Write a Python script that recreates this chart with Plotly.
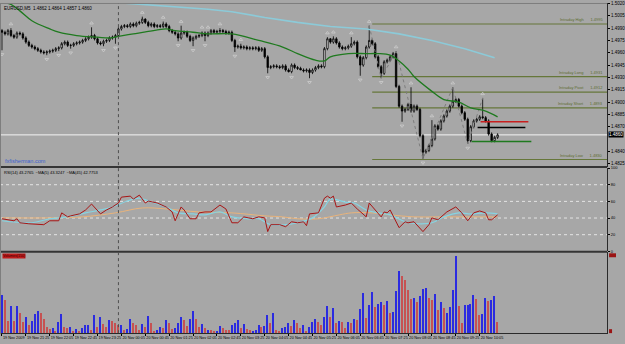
import plotly.graph_objects as go

# ---------------- data (prices stored as pips above 1.4800) ----------------
BASE = 1.4800
PIP = 0.0001

open_pips = [
    187, 185, 183, 187, 181, 179, 184, 183, 178, 173,
    169, 167, 165, 163, 161, 160, 161, 162, 163, 165,
    166, 171, 173, 169, 169, 171, 172, 173, 175, 177,
    179, 181, 177, 172, 171, 174, 175, 178, 179, 181,
    189, 192, 193, 192, 195, 193, 196, 197, 201, 197,
    193, 195, 192, 193, 192, 195, 192, 187, 185, 183,
    178, 184, 185, 180, 175, 178, 180, 181, 184, 181,
    184, 187, 185, 186, 187, 186, 184, 185, 175, 167,
    168, 166, 167, 165, 166, 165, 166, 163, 165, 155,
    142, 143, 144, 143, 142, 144, 139, 137, 145, 142,
    141, 139, 138, 139, 136, 139, 142, 144, 143, 165,
    177, 173, 177, 172, 167, 165, 166, 168, 171, 173,
    155, 145, 154, 167, 175, 171, 155, 143, 135, 149,
    151, 155, 159, 119, 95, 89, 91, 97, 89, 95,
    91, 59, 39, 41, 47, 55, 71, 67, 77, 83,
    89, 95, 101, 103, 95, 87, 79, 53, 70, 77,
    79, 82, 81, 77, 61, 53, 57]
high_pips = [
    189, 187, 189, 190, 183, 186, 186, 185, 180, 175,
    171, 169, 167, 165, 163, 163, 164, 165, 167, 168,
    173, 175, 175, 171, 173, 174, 175, 177, 179, 181,
    191, 183, 179, 174, 176, 177, 180, 181, 183, 191,
    194, 195, 195, 197, 197, 198, 199, 204, 202, 199,
    197, 197, 195, 195, 198, 197, 194, 189, 187, 185,
    193, 187, 187, 182, 180, 182, 183, 186, 186, 186,
    189, 189, 188, 190, 189, 188, 187, 187, 177, 170,
    171, 169, 169, 168, 168, 168, 168, 167, 167, 157,
    145, 146, 146, 145, 146, 146, 141, 147, 147, 144,
    143, 141, 141, 141, 141, 144, 146, 146, 167, 179,
    178, 180, 179, 174, 169, 168, 170, 179, 175, 175,
    157, 156, 169, 193, 177, 173, 157, 145, 151, 153,
    157, 161, 162, 121, 97, 93, 99, 118, 97, 97,
    93, 61, 43, 49, 78, 73, 73, 79, 85, 91,
    97, 118, 105, 105, 97, 89, 81, 72, 79, 81,
    84, 105, 83, 79, 63, 59, 62]
low_pips = [
    163, 181, 181, 179, 177, 177, 181, 176, 171, 167,
    165, 163, 161, 159, 158, 157, 159, 160, 161, 162,
    164, 169, 167, 165, 167, 169, 170, 171, 173, 175,
    177, 175, 170, 169, 168, 172, 173, 176, 171, 179,
    187, 190, 190, 190, 191, 191, 194, 195, 195, 191,
    191, 190, 190, 190, 190, 190, 185, 183, 181, 174,
    176, 182, 178, 173, 168, 176, 178, 179, 174, 179,
    182, 183, 183, 184, 184, 182, 182, 173, 161, 165,
    164, 164, 163, 163, 163, 163, 161, 161, 153, 135,
    140, 141, 141, 140, 140, 137, 136, 135, 140, 139,
    139, 136, 136, 129, 134, 137, 140, 141, 141, 163,
    171, 171, 170, 165, 163, 163, 164, 166, 169, 153,
    132, 143, 152, 165, 169, 153, 141, 129, 133, 147,
    149, 153, 117, 93, 76, 87, 89, 87, 87, 89,
    57, 31, 37, 39, 45, 53, 65, 65, 75, 81,
    87, 93, 99, 93, 85, 77, 49, 51, 68, 75,
    77, 79, 75, 59, 51, 51, 55]
close_pips = [
    185, 183, 187, 181, 179, 184, 183, 178, 173, 169,
    167, 165, 163, 161, 160, 161, 162, 163, 165, 166,
    171, 173, 169, 169, 171, 172, 173, 175, 177, 179,
    181, 177, 172, 171, 174, 175, 178, 179, 181, 189,
    192, 193, 192, 195, 193, 196, 197, 201, 197, 193,
    195, 192, 193, 192, 195, 192, 187, 185, 183, 178,
    184, 185, 180, 175, 178, 180, 181, 184, 181, 184,
    187, 185, 186, 187, 186, 184, 185, 175, 167, 168,
    166, 167, 165, 166, 165, 166, 163, 165, 155, 142,
    143, 144, 143, 142, 144, 139, 137, 145, 142, 141,
    139, 138, 139, 136, 139, 142, 144, 143, 165, 177,
    173, 177, 172, 167, 165, 166, 168, 171, 173, 155,
    145, 154, 167, 175, 171, 155, 143, 135, 149, 151,
    155, 159, 119, 95, 89, 91, 97, 89, 95, 91,
    59, 39, 41, 47, 55, 71, 67, 77, 83, 89,
    95, 101, 103, 95, 87, 79, 53, 70, 77, 79,
    82, 81, 77, 61, 53, 57, 60]

fractal_up_bars = [3, 30, 47, 54, 60, 67, 69, 73, 80, 109, 111, 117, 123, 132, 137, 144, 151, 161]
fractal_dn_bars = [0, 15, 19, 23, 34, 38, 59, 64, 68, 78, 89, 97, 103, 120, 127, 134, 141, 156]
zigzag_bars = [123, 127, 132, 141, 151, 156, 161]
zigzag_kind = ["h", "l", "h", "l", "h", "l", "h"]

# moving averages on price (bar index, pips)
ma_fast_bars = [0, 3, 6, 10, 16, 19, 25, 32, 36, 39, 44, 49, 55, 58, 64, 69, 77, 86, 94, 99,
                105, 108, 110, 116, 122, 126, 130, 133, 136, 138, 144, 148, 153, 157, 162, 166]
ma_fast_pips = [221, 219, 211, 199, 189, 185, 181, 179, 178, 180, 183, 186, 189, 187, 185, 183, 183, 175, 167, 159,
                151, 150, 155, 159, 159, 159, 157, 150, 140, 131, 113, 103, 100, 93, 89, 82]
ma_slow_bars = [36, 39, 69, 77, 88, 99, 110, 122, 133, 144, 155, 165]
ma_slow_pips = [224, 221, 213, 210, 203, 197, 192, 189, 183, 175, 165, 154]

# RSI(14) and its averages
rsi_bars = [0, 4, 5, 6, 9, 12, 14, 16, 19, 20, 22, 23, 26, 28, 30, 33, 35, 37, 39, 40,
            43, 44, 46, 48, 49, 52, 55, 57, 58, 60, 61, 63, 65, 66, 68, 70, 73, 75, 77, 79,
            81, 84, 86, 88, 89, 90, 93, 95, 97, 99, 101, 102, 103, 106, 108, 109, 110, 111, 112, 115,
            117, 119, 122, 123, 127, 128, 129, 130, 133, 135, 136, 138, 141, 143, 144, 146, 148, 149, 152, 154,
            156, 158, 160, 162, 163, 164, 166]
rsi_vals = [39.1, 36.7, 39.1, 34.3, 33.1, 32.0, 32.0, 36.7, 36.7, 46.2, 41.4, 42.6, 45.0, 49.7, 56.8, 45.0, 49.7, 53.3, 58.0, 65.1,
            66.3, 62.7, 67.5, 58.0, 60.4, 58.0, 53.3, 47.3, 36.7, 53.3, 49.7, 39.1, 39.1, 46.2, 47.3, 47.3, 55.6, 50.9, 34.3, 34.3,
            41.4, 39.1, 41.4, 40.2, 23.7, 32.0, 32.0, 29.6, 35.5, 34.3, 35.5, 30.8, 45.0, 46.2, 63.9, 66.3, 63.9, 66.3, 53.3, 55.6,
            58.0, 50.9, 41.4, 58.0, 41.4, 47.3, 46.2, 49.7, 28.4, 35.5, 34.3, 35.5, 23.7, 32.0, 40.2, 37.9, 43.8, 47.3, 53.3, 46.2,
            36.7, 46.2, 48.5, 46.2, 37.9, 37.9, 43.8]
rsi_ma5_bars = [0, 10, 16, 22, 28, 33, 37, 42, 46, 50, 55, 59, 64, 68, 73, 77, 82, 86, 90, 95,
                99, 104, 108, 110, 115, 118, 122, 126, 130, 135, 139, 144, 148, 153, 157, 162, 166]
rsi_ma5_vals = [36.7, 34.3, 39.1, 41.4, 46.2, 49.7, 53.3, 60.4, 63.9, 59.2, 53.3, 46.2, 45.0, 43.8, 47.3, 41.4, 39.1, 39.1, 32.0, 32.0,
                34.3, 40.2, 53.3, 62.7, 59.2, 58.0, 49.7, 46.2, 43.8, 35.5, 33.1, 34.3, 41.4, 46.2, 45.0, 46.2, 45.0]
rsi_ma45_bars = [0, 16, 27, 38, 47, 55, 66, 77, 88, 94, 99, 106, 113, 117, 124, 130, 138, 146, 155, 166]
rsi_ma45_vals = [40.2, 40.2, 41.4, 46.2, 52.1, 50.9, 47.3, 46.2, 42.6, 41.4, 39.1, 39.1, 43.8, 46.2, 46.2, 43.8, 41.4, 41.4, 41.4, 41.4]
rsi_levels = [20, 40, 60, 80]
rsi_ticks = [0, 20, 40, 60, 80, 100]

# volume per bar and its colour class
volume = [
    38, 33, 12, 27, 12, 27, 20, 11, 16, 8,
    12, 19, 22, 20, 14, 6, 4, 5, 2, 11,
    19, 6, 5, 6, 2, 4, 2, 5, 8, 8,
    3, 18, 6, 16, 9, 6, 13, 12, 10, 8,
    8, 3, 4, 14, 10, 8, 3, 9, 6, 17,
    10, 2, 3, 6, 5, 13, 10, 4, 5, 10,
    16, 13, 7, 14, 22, 14, 6, 9, 5, 3,
    3, 2, 2, 7, 5, 3, 3, 8, 10, 13,
    5, 9, 4, 3, 2, 3, 8, 6, 7, 18,
    10, 20, 3, 2, 5, 6, 10, 7, 13, 10,
    5, 8, 1, 6, 11, 14, 11, 8, 16, 27,
    16, 25, 10, 12, 11, 5, 11, 10, 14, 13,
    24, 40, 15, 28, 41, 26, 29, 31, 28, 32,
    20, 21, 42, 63, 58, 54, 43, 34, 35, 31,
    37, 44, 45, 35, 33, 39, 23, 31, 25, 20,
    26, 43, 78, 27, 10, 28, 28, 29, 38, 34,
    18, 19, 35, 32, 33, 37, 11]
volume_kind = list(
    "BRRBRBRRBR" "BBBRRRRBRB" "BRRBRBRBBB" "RBRBRRBRRR" "BRBBRRRBRB"
    "RRBBRBRRBB" "BRRBBRRBRB" "RRBBRRRBBB" "RBRRBBBRBB" "RBRRBBBRBR"
    "RBRBBBRRBB" "RBRBRRBRBR" "BBRBBRBBRB" "RBBBRRRRBR" "BBBRRBRBRB"
    "BBBRRBBBBR" "RBBRBBR")

time_tick_bars = [0, 8, 16, 24, 32, 40, 48, 56, 64, 72, 80, 88, 96, 104, 112, 120, 128, 136, 144, 152, 160]
time_tick_labels = ["19 Nov 2009", "19 Nov 21:25", "19 Nov 22:05", "19 Nov 22:45", "19 Nov 23:25",
                    "20 Nov 00:05", "20 Nov 00:45", "20 Nov 01:25", "20 Nov 02:05", "20 Nov 02:45",
                    "20 Nov 03:25", "20 Nov 04:05", "20 Nov 04:45", "20 Nov 05:25", "20 Nov 06:05",
                    "20 Nov 06:45", "20 Nov 07:25", "20 Nov 08:05", "20 Nov 08:45", "20 Nov 09:25",
                    "20 Nov 10:05"]
day_separator_bar = 39

price_ticks = [1.5020, 1.5005, 1.4990, 1.4975, 1.4960, 1.4945, 1.4930, 1.4915,
               1.4900, 1.4885, 1.4870, 1.4840, 1.4825]
current_price = 1.4860

intraday_names = ["Intraday High", "Intraday Long", "Intraday Pivot", "Intraday Short", "Intraday Low"]
intraday_vals = [1.4995, 1.4931, 1.4912, 1.4893, 1.4830]
intraday_start_bar = 124

order_levels = [1.4876, 1.4869, 1.4852]
order_start = [160.3, 159.3, 157.3]
order_end = [176.3, 175.3, 177.3]
order_colors = ["#c81e1e", "#000000", "#1f7a1f"]

# ---------------- figure ----------------
def to_price(v):
    return round(BASE + v * PIP, 5)

bars = list(range(len(close_pips)))
o = [to_price(v) for v in open_pips]
h = [to_price(v) for v in high_pips]
l = [to_price(v) for v in low_pips]
c = [to_price(v) for v in close_pips]

BG = "#a7a7a7"
XR = 610 / 625
X_MAX = 608 / 3
FONT = "Liberation Sans"

def py(y):  # pixel row -> paper fraction
    return 1 - y / 344

fig = go.Figure()

fig.add_trace(go.Scatter(
    x=zigzag_bars,
    y=[h[b] if k == "h" else l[b] for b, k in zip(zigzag_bars, zigzag_kind)],
    mode="lines", line=dict(color="#7c7c7c", width=1, dash="dot"), hoverinfo="skip"))

fig.add_trace(go.Scatter(x=ma_slow_bars, y=[to_price(v) for v in ma_slow_pips], mode="lines",
                         line=dict(color="#8ccad8", width=1.6), hoverinfo="skip"))
fig.add_trace(go.Scatter(x=ma_fast_bars, y=[to_price(v) for v in ma_fast_pips], mode="lines",
                         line=dict(color="#1f7a1f", width=1.3, shape="spline"), hoverinfo="skip"))

fig.add_trace(go.Candlestick(
    x=bars, open=o, high=h, low=l, close=c,
    increasing=dict(line=dict(color="#000000", width=0.8), fillcolor="#ffffff"),
    decreasing=dict(line=dict(color="#000000", width=0.8), fillcolor="#000000"),
    whiskerwidth=0, hoverinfo="skip"))

fig.add_trace(go.Scatter(
    x=fractal_up_bars, y=[h[b] + 0.0005 for b in fractal_up_bars], mode="markers",
    marker=dict(symbol="triangle-up-open", size=3.2, color="#cdcdcd", line=dict(width=0.8)),
    hoverinfo="skip"))
fig.add_trace(go.Scatter(
    x=fractal_dn_bars, y=[l[b] - 0.0005 for b in fractal_dn_bars], mode="markers",
    marker=dict(symbol="triangle-down-open", size=3.2, color="#cdcdcd", line=dict(width=0.8)),
    hoverinfo="skip"))

# RSI panel
fig.add_trace(go.Scatter(x=rsi_ma45_bars, y=rsi_ma45_vals, mode="lines", yaxis="y2",
                         line=dict(color="#e9b37a", width=1, shape="spline"), hoverinfo="skip"))
fig.add_trace(go.Scatter(x=rsi_ma5_bars, y=rsi_ma5_vals, mode="lines", yaxis="y2",
                         line=dict(color="#86d4e2", width=1.2, shape="spline"), hoverinfo="skip"))
fig.add_trace(go.Scatter(x=rsi_bars, y=rsi_vals, mode="lines", yaxis="y2",
                         line=dict(color="#a81515", width=1), hoverinfo="skip"))

# Volume panel
fig.add_trace(go.Bar(x=bars, y=volume, yaxis="y3", width=0.5,
                     marker=dict(color=["#2b2be0" if k == "B" else "#c65252" for k in volume_kind],
                                 line=dict(width=0)),
                     hoverinfo="skip"))

shapes = []
for yy in (166.5, 252.5):
    shapes.append(dict(type="line", xref="paper", yref="paper", x0=0, x1=XR, y0=py(yy), y1=py(yy),
                       line=dict(color="#353535", width=2)))
shapes.append(dict(type="line", xref="paper", yref="paper", x0=0, x1=XR, y0=py(0.5), y1=py(0.5),
                   line=dict(color="#7e7e7e", width=1)))
shapes.append(dict(type="line", xref="paper", yref="paper", x0=0.0008, x1=0.0008, y0=py(336), y1=1,
                   line=dict(color="#7e7e7e", width=1)))
shapes.append(dict(type="line", xref="x", yref="paper", x0=day_separator_bar, x1=day_separator_bar,
                   y0=py(335), y1=1, line=dict(color="#4f4f4f", width=1, dash="dot")))
for lv in rsi_levels:
    shapes.append(dict(type="line", xref="paper", yref="y2", x0=0, x1=XR, y0=lv, y1=lv,
                       line=dict(color="#e4e4e4", width=1, dash="dot"), layer="below"))
shapes.append(dict(type="line", xref="paper", yref="y", x0=0, x1=XR, y0=current_price, y1=current_price,
                   line=dict(color="#f4f4f4", width=1), layer="below"))
for v in intraday_vals:
    shapes.append(dict(type="line", xref="x", yref="y", x0=intraday_start_bar, x1=X_MAX, y0=v, y1=v,
                       line=dict(color="#66773a", width=1.2), layer="below"))
for lv, x0, x1, col in zip(order_levels, order_start, order_end, order_colors):
    shapes.append(dict(type="line", xref="x", yref="y", x0=x0, x1=x1, y0=lv, y1=lv,
                       line=dict(color=col, width=1.6)))
shapes.append(dict(type="rect", xref="paper", yref="paper", x0=612 / 625, x1=619 / 625,
                   y0=py(258), y1=py(254), fillcolor="#9a1414", line=dict(width=0)))
shapes.append(dict(type="rect", xref="paper", yref="paper", x0=612 / 625, x1=615 / 625,
                   y0=py(335), y1=py(331), fillcolor="#9a1414", line=dict(width=0)))

annotations = [
    dict(text="EURUSD,M5  1.4862 1.4864 1.4857 1.4860", xref="paper", yref="paper", x=2 / 625, y=py(1),
         xanchor="left", yanchor="top", showarrow=False, font=dict(size=4.5, color="#000000", family=FONT)),
    dict(text="fxfisherman.com", xref="paper", yref="paper", x=3 / 625, y=py(160),
         xanchor="left", yanchor="middle", showarrow=False, font=dict(size=5.5, color="#3c5fcf", family=FONT)),
    dict(text="RSI(14) 43.2765  ~MA(5) 43.3247  ~MA(45) 42.7753", xref="paper", yref="paper", x=2 / 625,
         y=py(171.5), xanchor="left", yanchor="middle", showarrow=False,
         font=dict(size=4, color="#000000", family=FONT)),
    dict(text="Volumes(150)", xref="paper", yref="paper", x=2 / 625, y=py(257), xanchor="left",
         yanchor="middle", showarrow=False, bgcolor="#c01c1c", borderpad=0,
         font=dict(size=3.6, color="#3a0000", family=FONT)),
    dict(text=f"{current_price:.4f}", xref="paper", yref="y", x=610.5 / 625, y=current_price,
         xanchor="left", yanchor="middle", showarrow=False, bgcolor="#000000", borderpad=0,
         font=dict(size=4.5, color="#ffffff", family=FONT)),
]
for name, v in zip(intraday_names, intraday_vals):
    annotations.append(dict(text=f"{name}&nbsp;&nbsp;&nbsp;&nbsp;&nbsp;&nbsp;{v:.4f}", xref="paper", yref="y",
                            x=608 / 625, y=v, xanchor="right", yanchor="bottom", showarrow=False,
                            font=dict(size=4, color="#5e6e33", family=FONT)))

axis_common = dict(showgrid=False, zeroline=False, fixedrange=True)
fig.update_layout(
    width=625, height=344, margin=dict(l=0, r=0, t=0, b=0),
    paper_bgcolor=BG, plot_bgcolor=BG, showlegend=False,
    font=dict(family=FONT, size=4, color="#000000"),
    shapes=shapes, annotations=annotations, bargap=0,
    xaxis=dict(domain=[0, XR], range=[-2 / 3, X_MAX], anchor="y3", tickvals=time_tick_bars,
               ticktext=time_tick_labels, tickfont=dict(size=3.8, color="#000000"), tickangle=0,
               ticks="outside", ticklen=2, tickcolor="#000000", ticklabelposition="outside right",
               showline=True, linecolor="#2a2a2a", linewidth=1, rangeslider=dict(visible=False),
               **axis_common),
    yaxis=dict(domain=[py(166), 1], range=[1.48214, 1.50206], side="right", anchor="x",
               tickvals=price_ticks, ticktext=[f"{v:.4f}" for v in price_ticks],
               tickfont=dict(size=4.5, color="#000000"), ticks="outside", ticklen=2, tickcolor="#000000",
               showline=True, linecolor="#2a2a2a", linewidth=1, **axis_common),
    yaxis2=dict(domain=[py(252), py(167.5)], range=[0, 100], side="right", anchor="x",
                tickvals=rsi_ticks, ticktext=[str(v) for v in rsi_ticks],
                tickfont=dict(size=4, color="#000000"), ticks="outside", ticklen=2, tickcolor="#000000",
                showline=True, linecolor="#2a2a2a", linewidth=1, **axis_common),
    yaxis3=dict(domain=[py(335), py(253)], range=[0, 82], side="right", anchor="x",
                showticklabels=False, showline=True, linecolor="#2a2a2a", linewidth=1, **axis_common),
)

fig.write_html("out.html")
